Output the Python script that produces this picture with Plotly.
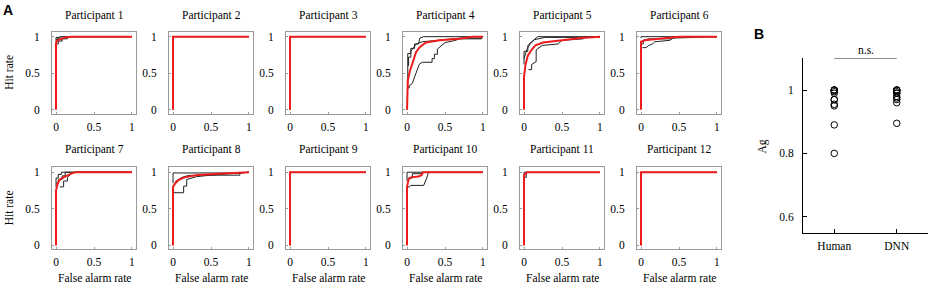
import plotly.graph_objects as go

# ---------------- data ----------------
participants = [f"Participant {i}" for i in range(1, 13)]
tick_vals = [0, 0.5, 1]
tick_text = ["0", "0.5", "1"]

# ROC curves: (false alarm rate, hit rate)
p1_red = [(0,0),(0,0.92),(0.02,0.95),(0.06,0.97),(0.12,0.99),(0.2,1),(1,1)]
p1_black = [[(0,0.94),(0,0.99),(0.05,0.99),(0.05,1),(1,1)],
            [(0,0.9),(0.03,0.9),(0.03,0.94),(0.08,0.94),(0.08,0.97),(0.15,0.97),(0.15,1),(1,1)],
            [(0,0.96),(0.02,0.96),(0.02,0.98),(0.1,0.98),(0.18,1),(1,1)]]
p2_red = [(0,0),(0,1),(1,1)]
p2_black = [[(0,0),(0,1),(1,1)]]
p3_red = [(0,0),(0,1),(1,1)]
p3_black = [[(0,0),(0,1),(1,1)]]
p4_red = [(0,0),(0,0.3),(0.01,0.4),(0.035,0.52),(0.08,0.68),(0.12,0.79),(0.17,0.86),
          (0.25,0.92),(0.43,0.95),(0.69,0.97),(0.87,1),(1,1)]
p4_black = [[(0,0.3),(0.03,0.3),(0.03,0.33),(0.07,0.36),(0.1,0.45),(0.13,0.55),(0.16,0.62),(0.2,0.65),
             (0.33,0.65),(0.33,0.7),(0.36,0.7),(0.36,0.76),(0.4,0.76),(0.4,0.83),(0.45,0.88),(0.5,0.92),
             (0.6,0.94),(0.7,0.97),(0.98,0.97),(1,1)],
            [(0.01,0.3),(0.01,0.77),(0.05,0.77),(0.05,0.84),(0.1,0.84),(0.1,0.9),(0.15,0.9),(0.17,0.98),
             (0.22,1),(0.98,1),(1,1)],
            [(0.02,0.6),(0.02,0.72),(0.05,0.72),(0.05,0.8),(0.08,0.84),(0.12,0.9),(0.2,0.93),(0.4,0.95),
             (0.7,0.98),(0.98,0.98),(1,1)]]
p5_red = [(0,0),(0,0.45),(0.02,0.62),(0.05,0.74),(0.1,0.82),(0.15,0.88),(0.25,0.92),(0.4,0.94),
          (0.55,0.96),(0.75,0.98),(1,1)]
p5_black = [[(0,0.62),(0,0.8),(0.05,0.8),(0.05,0.88),(0.1,0.93),(0.18,1),(1,1)],
            [(0.06,0.55),(0.1,0.55),(0.1,0.62),(0.16,0.66),(0.16,0.82),(0.24,0.88),(0.45,0.9),
             (0.5,0.95),(0.78,0.97),(0.8,1),(1,1)],
            [(0,0.7),(0.04,0.83),(0.08,0.9),(0.14,0.96),(0.28,0.99),(1,0.99)]]
p6_red = [(0,0),(0,0.93),(0.05,0.95),(0.15,0.96),(0.3,0.97),(0.4,0.99),(0.5,1),(1,1)]
p6_black = [[(0,0.98),(0,1),(0.4,1),(1,1)],
            [(0.02,0.85),(0.07,0.85),(0.1,0.88),(0.15,0.9),(0.18,0.93),(0.38,0.95),(0.42,0.98),(1,1)],
            [(0,0.9),(0.03,0.9),(0.03,0.95),(0.1,0.97),(0.4,0.97),(0.45,1),(1,1)]]
p7_red = [(0,0),(0,0.75),(0.02,0.84),(0.05,0.9),(0.1,0.93),(0.15,0.96),(0.2,0.98),(0.25,1),(1,1)]
p7_black = [[(0,0.8),(0,0.92),(0.03,0.92),(0.03,0.97),(0.07,0.97),(0.07,1),(0.2,1),(1,1)],
            [(0,0.85),(0.03,0.85),(0.03,0.9),(0.08,0.9),(0.08,0.95),(0.12,0.95),(0.12,1),(1,1)],
            [(0.05,0.8),(0.1,0.8),(0.1,0.88),(0.15,0.88),(0.15,0.93),(0.2,0.98),(0.25,1),(1,1)]]
p8_red = [(0,0),(0,0.8),(0.03,0.85),(0.08,0.9),(0.15,0.93),(0.3,0.96),(0.6,0.98),(1,1)]
p8_black = [[(0,0.85),(0,0.99),(0.88,0.99),(1,1)],
            [(0.03,0.875),(0.12,0.93),(0.2,0.955),(0.35,0.96),(0.88,0.96),(0.88,0.99),(1,1)],
            [(0,0.72),(0.14,0.72),(0.14,0.81),(0.18,0.81),(0.18,0.9),(0.31,0.94),(0.5,0.96),(1,1)]]
p9_red = [(0,0),(0,1),(1,1)]
p9_black = [[(0,0),(0,1),(1,1)]]
p10_red = [(0,0),(0,0.8),(0.02,0.9),(0.05,0.93),(0.15,0.94),(0.19,0.96),(0.21,1),(1,1)]
p10_black = [[(0,0.88),(0,1),(0.2,1),(1,1)],
             [(0.01,0.92),(0.07,0.92),(0.07,0.98),(0.2,0.98),(0.2,1)],
             [(0,0.8),(0.03,0.8),(0.05,0.82),(0.22,0.82),(0.27,0.95),(0.28,1),(1,1)]]
p11_red = [(0,0),(0,0.96),(0.02,0.98),(0.04,1),(1,1)]
p11_black = [[(0.01,0.93),(0.03,0.93),(0.03,1)], [(0,0.97),(0,1),(1,1)]]
p12_red = [(0,0),(0,1),(1,1)]
p12_black = [[(0,0),(0,1),(1,1)]]

red_curves = [p1_red, p2_red, p3_red, p4_red, p5_red, p6_red,
              p7_red, p8_red, p9_red, p10_red, p11_red, p12_red]
black_curves = [p1_black, p2_black, p3_black, p4_black, p5_black, p6_black,
                p7_black, p8_black, p9_black, p10_black, p11_black, p12_black]

# Panel B
groups = ["Human", "DNN"]
ag_human = [0.99, 1, 1, 0.80, 0.89, 0.97, 0.955, 0.95, 1, 0.97, 0.995, 1]
ag_dnn = [0.99, 1, 1, 0.895, 0.96, 0.98, 0.97, 0.975, 1, 0.99, 0.995, 1]

# ---------------- layout ----------------
W, H = 928, 288
FONT = "Liberation Serif"
FS = 11.5
GRAY = "#9a9a9a"

fig = go.Figure()
layout = dict(width=W, height=H, margin=dict(l=0, r=0, t=0, b=0),
              paper_bgcolor="white", plot_bgcolor="white", showlegend=False,
              font=dict(family=FONT, size=FS, color="black"))
annotations = []
shapes = []

def px_x(p):
    return p / W

def px_y(p):
    return 1 - p / H

for k in range(12):
    row, col = divmod(k, 6)
    left = 52 + 117 * col
    right = left + 84
    top = 31 if row == 0 else 168
    bottom = top + 83
    ax = k + 1
    xn = "xaxis" if ax == 1 else f"xaxis{ax}"
    yn = "yaxis" if ax == 1 else f"yaxis{ax}"
    xr = "x" if ax == 1 else f"x{ax}"
    yr = "y" if ax == 1 else f"y{ax}"
    common = dict(showgrid=False, zeroline=False, showline=True, mirror=True,
                  linecolor=GRAY, linewidth=1, ticks="inside", ticklen=2,
                  tickcolor=GRAY, tickvals=tick_vals, ticktext=tick_text,
                  tickfont=dict(family=FONT, size=FS, color="black"), fixedrange=True)
    layout[xn] = dict(domain=[px_x(left), px_x(right)], range=[-0.053, 1.053],
                      anchor=yr, ticklabelstandoff=2, **common)
    layout[yn] = dict(domain=[px_y(bottom), px_y(top)], range=[-0.054, 1.068],
                      anchor=xr, ticklabelstandoff=9, **common)
    for c in black_curves[k]:
        fig.add_trace(go.Scatter(x=[p[0] for p in c], y=[p[1] for p in c], mode="lines",
                                 line=dict(color="#222222", width=1), xaxis=xr, yaxis=yr,
                                 hoverinfo="skip"))
    rc = red_curves[k]
    fig.add_trace(go.Scatter(x=[p[0] for p in rc], y=[p[1] for p in rc], mode="lines",
                             line=dict(color="#ee1c1c", width=2), xaxis=xr, yaxis=yr,
                             hoverinfo="skip"))
    annotations.append(dict(text=participants[k], x=px_x((left + right) / 2),
                            y=px_y(15 if row == 0 else 150), xref="paper", yref="paper",
                            showarrow=False, xanchor="center", yanchor="middle",
                            font=dict(family=FONT, size=FS)))
    if row == 1:
        annotations.append(dict(text="False alarm rate", x=px_x((left + right) / 2),
                                y=px_y(280), xref="paper", yref="paper", showarrow=False,
                                xanchor="center", yanchor="middle",
                                font=dict(family=FONT, size=FS)))
    if col == 0:
        annotations.append(dict(text="Hit rate", x=px_x(9), y=px_y((top + bottom) / 2),
                                xref="paper", yref="paper", showarrow=False, textangle=-90,
                                xanchor="center", yanchor="middle",
                                font=dict(family=FONT, size=FS)))

# Panel B axes
layout["xaxis13"] = dict(domain=[px_x(803), 1.0], range=[0.5, 2.5], anchor="y13",
                         showgrid=False, zeroline=False, showline=True, linecolor="black",
                         linewidth=1, ticks="inside", ticklen=4, tickcolor="black",
                         tickvals=[1, 2], ticktext=groups, fixedrange=True,
                         ticklabelstandoff=3,
                         tickfont=dict(family=FONT, size=FS, color="black"))
layout["yaxis13"] = dict(domain=[px_y(234), px_y(58)], range=[0.55, 1.1], anchor="x13",
                         showgrid=False, zeroline=False, showline=True, linecolor="black",
                         linewidth=1, ticks="inside", ticklen=4, tickcolor="black",
                         tickvals=[0.6, 0.8, 1], ticktext=["0.6", "0.8", "1"], fixedrange=True,
                         ticklabelstandoff=6,
                         tickfont=dict(family=FONT, size=FS, color="black"))
for i, vals in enumerate([ag_human, ag_dnn]):
    fig.add_trace(go.Scatter(x=[i + 1] * len(vals), y=vals, mode="markers",
                             marker=dict(symbol="circle-open", size=6.5, color="black",
                                         line=dict(width=1, color="black")),
                             xaxis="x13", yaxis="y13", hoverinfo="skip"))
shapes.append(dict(type="line", xref="x13", yref="y13", x0=1, x1=2, y0=1.1, y1=1.1,
                   line=dict(color="black", width=1)))
annotations.append(dict(text="n.s.", x=1.5, y=px_y(50), xref="x13", yref="paper",
                        showarrow=False, xanchor="center", yanchor="middle",
                        font=dict(family=FONT, size=FS)))
annotations.append(dict(text="Ag", x=px_x(762), y=px_y(147), xref="paper", yref="paper",
                        showarrow=False, textangle=-90, xanchor="center", yanchor="middle",
                        font=dict(family=FONT, size=FS)))

# panel letters
annotations.append(dict(text="<b>A</b>", x=px_x(1), y=px_y(9), xref="paper", yref="paper",
                        showarrow=False, xanchor="left", yanchor="middle",
                        font=dict(family="Liberation Sans", size=14)))
annotations.append(dict(text="<b>B</b>", x=px_x(752), y=px_y(33), xref="paper", yref="paper",
                        showarrow=False, xanchor="left", yanchor="middle",
                        font=dict(family="Liberation Sans", size=14)))

layout["annotations"] = annotations
layout["shapes"] = shapes
fig.update_layout(**layout)
fig.write_html("out.html", config={"displayModeBar": False},
               post_script="document.body.style.margin='0';")
